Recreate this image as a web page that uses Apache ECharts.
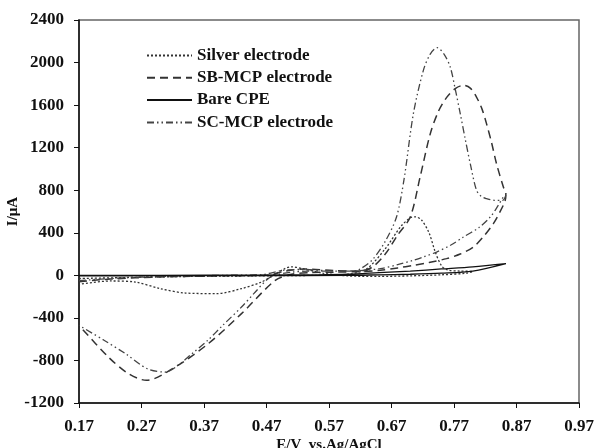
<!DOCTYPE html>
<html>
<head>
<meta charset="utf-8">
<script src="https://cdn.jsdelivr.net/npm/echarts@6/dist/echarts.min.js"></script>
<style>
  html, body { margin: 0; padding: 0; background: #fff; }
  #chart { width: 597px; height: 448px; }
</style>
</head>
<body>
<div id="chart"></div>
<script>
const FONT = "'Liberation Serif', 'Times New Roman', serif"
const INK = '#111'

const seriesNames = ['Silver electrode', 'SB-MCP electrode', 'Bare CPE', 'SC-MCP electrode']

// [E (V), I (uA)], in scan order
const silver = [
  [0.17, -30], [0.25, -20], [0.35, -10], [0.45, -5], [0.55, 0], [0.60, 10],
  [0.63, 60], [0.66, 250], [0.685, 460], [0.70, 540], [0.708, 550], [0.718, 520],
  [0.73, 400], [0.74, 220], [0.75, 90], [0.76, 50], [0.78, 40], [0.80, 35],
  [0.79, 20], [0.75, 5], [0.70, -5], [0.65, -10], [0.60, -5], [0.56, 20],
  [0.53, 60], [0.51, 80], [0.50, 65], [0.478, -9], [0.462, -63], [0.43, -125],
  [0.39, -172], [0.34, -166], [0.30, -125], [0.26, -63], [0.22, -53], [0.17, -85],
]

const sbMcp = [
  [0.17, -60], [0.22, -35], [0.30, -15], [0.40, -5], [0.47, 0], [0.50, 40],
  [0.53, 60], [0.58, 45], [0.62, 40], [0.64, 80], [0.66, 200], [0.68, 380],
  [0.70, 548], [0.716, 930], [0.732, 1330], [0.745, 1540], [0.758, 1670], [0.772, 1755],
  [0.785, 1786], [0.796, 1760], [0.806, 1676], [0.815, 1560], [0.822, 1426], [0.83, 1250],
  [0.838, 1050], [0.849, 830], [0.853, 771],
  [0.852, 705], [0.843, 590], [0.833, 486], [0.818, 370], [0.801, 266], [0.78, 200],
  [0.758, 157], [0.73, 120], [0.705, 94], [0.68, 70], [0.652, 47], [0.62, 35],
  [0.58, 30], [0.54, 25], [0.51, 10], [0.484, -47], [0.43, -360], [0.377, -642],
  [0.324, -862], [0.278, -987], [0.249, -924], [0.217, -768], [0.17, -470],
]

const bareCpe = [
  [0.17, 0], [0.30, 0], [0.45, 2], [0.55, 5], [0.60, 10], [0.65, 25],
  [0.70, 40], [0.75, 60], [0.80, 80], [0.853, 110],
  [0.80, 40], [0.75, 20], [0.70, 10], [0.65, 5], [0.60, 0], [0.45, -2],
  [0.30, -3], [0.17, -5],
]

const scMcp = [
  [0.17, -50], [0.22, -30], [0.30, -10], [0.40, 0], [0.46, 5], [0.50, 50],
  [0.53, 55], [0.58, 40], [0.61, 40], [0.62, 60], [0.64, 150], [0.66, 320],
  [0.678, 548], [0.69, 900], [0.705, 1520], [0.721, 1927], [0.732, 2080], [0.743, 2140],
  [0.754, 2080], [0.764, 1958], [0.772, 1750], [0.78, 1520], [0.788, 1280], [0.796, 1050],
  [0.806, 800], [0.814, 740], [0.822, 721], [0.835, 705], [0.848, 705], [0.853, 752],
  [0.849, 736], [0.84, 650], [0.828, 548], [0.81, 450], [0.785, 360], [0.765, 285],
  [0.742, 219], [0.72, 170], [0.705, 141], [0.68, 100], [0.652, 63], [0.62, 45],
  [0.58, 40], [0.54, 40], [0.51, 30], [0.49, 10], [0.473, -30], [0.45, -170],
  [0.43, -298], [0.40, -470], [0.376, -611], [0.35, -740], [0.33, -840], [0.308, -909],
  [0.28, -880], [0.244, -735], [0.21, -610], [0.17, -470],
]

const seriesData = [silver, sbMcp, bareCpe, scMcp]
const lineTypes = [[2, 2], [8, 5], 'solid', [7, 3, 1.5, 3, 1.5, 3]]
const lineColors = ['#333', '#333', '#111', '#444']
const lineWidths = [1.3, 1.5, 1.3, 1.3]

const chart = echarts.init(document.getElementById('chart'))

chart.setOption({
  animation: false,
  backgroundColor: '#fff',
  grid: {
    left: 79, right: 18, top: 20, bottom: 45,
    outerBoundsMode: 'none',
    containLabel: false,
    show: true, borderColor: '#666', borderWidth: 1.5,
  },
  legend: {
    orient: 'vertical',
    left: 146,
    top: 47,
    padding: 0,
    itemWidth: 45,
    itemHeight: 12,
    itemGap: 5.3,
    itemStyle: { opacity: 0 },
    textStyle: { fontFamily: FONT, fontWeight: 'bold', fontSize: 17, lineHeight: 17, color: INK },
    data: seriesNames,
  },
  xAxis: {
    type: 'value',
    min: 0.17,
    max: 0.97,
    interval: 0.1,
    name: 'E/V  vs.Ag/AgCl',
    nameLocation: 'middle',
    nameGap: 35,
    nameMoveOverlap: false,
    nameTextStyle: { fontFamily: FONT, fontWeight: 'bold', fontSize: 15, color: INK },
    axisLine: { onZero: false, lineStyle: { color: INK, width: 1.5 } },
    axisTick: { length: 5, lineStyle: { color: INK } },
    axisLabel: {
      fontFamily: FONT, fontWeight: 'bold', fontSize: 17, color: INK, margin: 15,
      formatter: v => v.toFixed(2),
    },
    splitLine: { show: false },
  },
  yAxis: {
    type: 'value',
    min: -1200,
    max: 2400,
    interval: 400,
    name: 'I/μA',
    nameLocation: 'middle',
    nameGap: 58,
    nameMoveOverlap: false,
    nameTextStyle: { fontFamily: FONT, fontWeight: 'bold', fontSize: 15, color: INK },
    axisLine: { onZero: false, lineStyle: { color: INK, width: 1.5 } },
    axisTick: { length: 5, lineStyle: { color: INK } },
    axisLabel: {
      fontFamily: FONT, fontWeight: 'bold', fontSize: 17, color: INK, margin: 15,
      formatter: v => String(v),
    },
    splitLine: { show: false },
  },
  series: seriesData.map((data, i) => ({
    name: seriesNames[i],
    type: 'line',
    data: data,
    smooth: 0.3,
    symbol: 'none',
    lineStyle: { color: lineColors[i], width: lineWidths[i], type: lineTypes[i] },
    itemStyle: { color: lineColors[i] },
    z: i === 2 ? 3 : 2,
  })),
})
</script>
</body>
</html>
